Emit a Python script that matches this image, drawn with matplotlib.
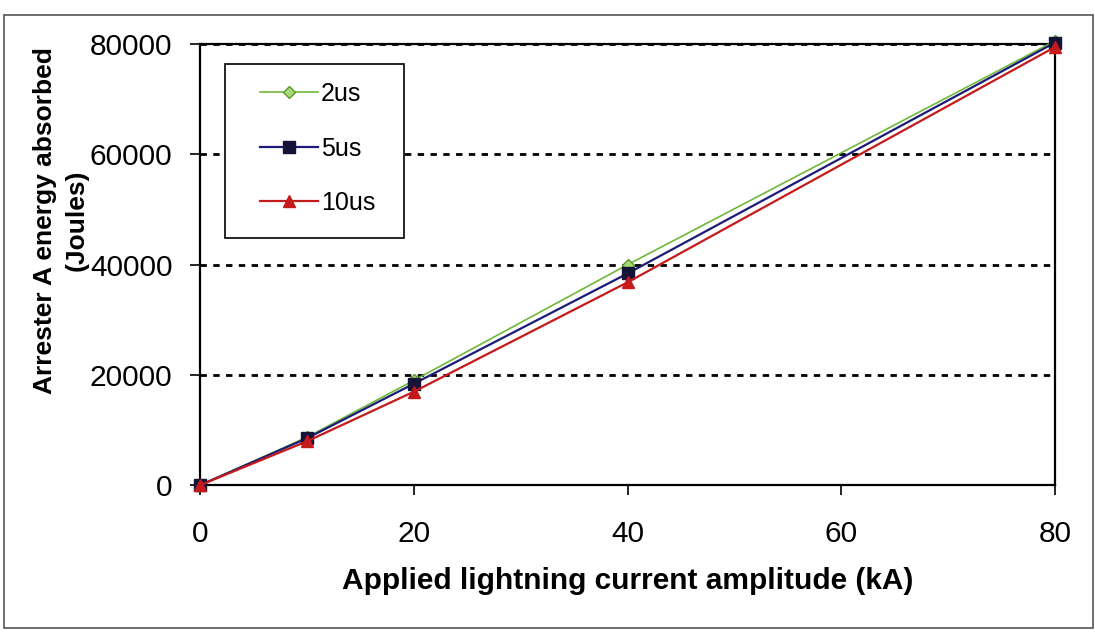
import matplotlib
matplotlib.use("Agg")
import matplotlib.pyplot as plt
from matplotlib.patches import Rectangle

plt.rcParams['font.family'] = ['Liberation Sans', 'DejaVu Sans']

current_ka = [0, 10, 20, 40, 80]
energy_2us = [0, 8700, 19000, 40000, 80600]
energy_5us = [0, 8500, 18400, 38400, 80300]
energy_10us = [0, 7950, 16950, 36800, 79500]
series_labels = ["2us", "5us", "10us"]
x_ticks = [0, 20, 40, 60, 80]
y_ticks = [0, 20000, 40000, 60000, 80000]

W, H = 1095, 632
fig = plt.figure(figsize=(W / 100, H / 100), dpi=100)
ax = fig.add_axes([0.1830, 0.2326, 0.9635 - 0.1830, 0.930 - 0.2326])

ax.plot(current_ka, energy_2us, color="#6fb83a", lw=1.2, marker="D", ms=6,
        mfc="#a8d878", mec="#5a9a2a", mew=1.0, label=series_labels[0],
        clip_on=False, zorder=3)
ax.plot(current_ka, energy_5us, color="#1c1c78", lw=1.6, marker="s", ms=8,
        mfc="#141438", mec="#141438", label=series_labels[1],
        clip_on=False, zorder=4)
ax.plot(current_ka, energy_10us, color="#c41a1a", lw=1.6, marker="^", ms=9,
        mfc="#c41a1a", mec="#c41a1a", label=series_labels[2],
        clip_on=False, zorder=5)

ax.set_xlim(0, 80)
ax.set_ylim(0, 80000)
ax.set_xticks(x_ticks)
ax.set_yticks(y_ticks)
ax.tick_params(axis="both", direction="out", length=7, width=1.2,
               labelsize=21.5, colors="black")
ax.tick_params(axis="x", pad=18)
ax.tick_params(axis="y", pad=13)

ax.yaxis.grid(True, color="black", linestyle=(0, (2.3, 2.3)), lw=2)
ax.set_axisbelow(True)
for side in ["left", "bottom", "right", "top"]:
    ax.spines[side].set_color("black")
    ax.spines[side].set_linewidth(1.6)

ax.set_xlabel("Applied lightning current amplitude (kA)", fontsize=21.5,
              fontweight="bold", labelpad=14)
ax.set_ylabel("Arrester A energy absorbed\n(Joules)", fontsize=19,
              fontweight="bold", linespacing=1.4)
ax.yaxis.set_label_coords(-0.131, 0.60)

# legend box drawn as its own patch, entries placed on top of it
legend_box = Rectangle((225 / W, 1 - 238 / H), 179 / W, 174 / H,
                       transform=fig.transFigure, facecolor="white",
                       edgecolor="black", lw=1.2, zorder=5.5, clip_on=False)
ax.add_artist(legend_box)
leg = ax.legend(loc="upper left", bbox_to_anchor=(260 / W, 1 - 82 / H),
                bbox_transform=fig.transFigure, fontsize=18, frameon=False,
                borderpad=0.0, labelspacing=1.22, handlelength=2.3,
                handletextpad=0.15, borderaxespad=0.0)
leg.set_zorder(6)

# outer chart border
fig.patches.append(Rectangle((4 / W, 1 - 628 / H), 1089 / W, 613 / H,
                             transform=fig.transFigure,
                             fill=False, edgecolor="#555555", lw=1.2))

fig.savefig("out.png", dpi=100, facecolor="white")
